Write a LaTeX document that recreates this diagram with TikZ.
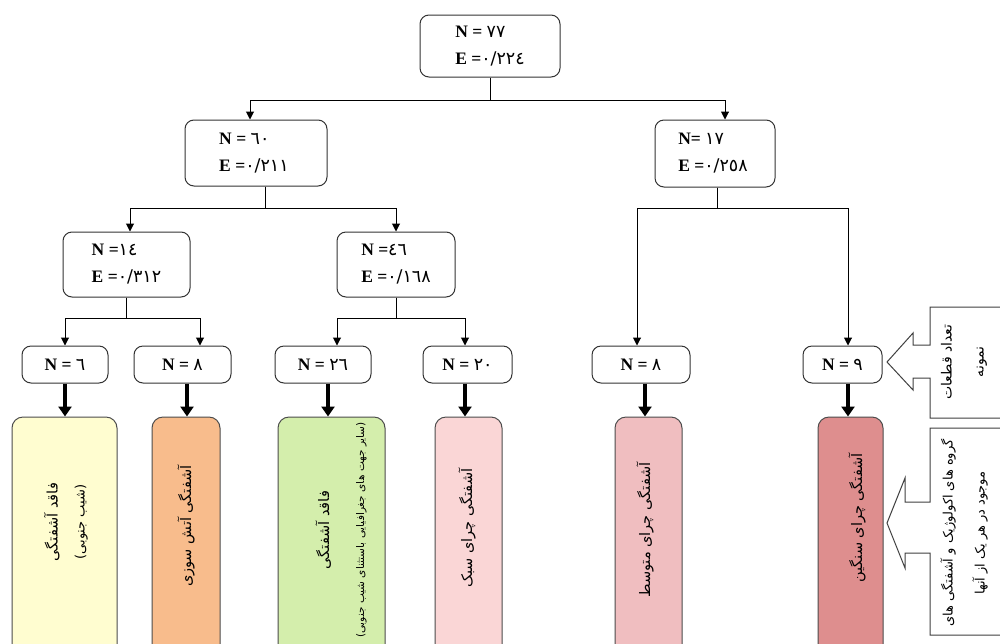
\documentclass[tikz,border=0pt]{standalone}
\usepackage{fontspec}
\setmainfont{Liberation Serif}
\newfontfamily\fa[Script=Arabic]{DejaVu Sans}
\newfontfamily\fadig{DejaVu Sans}
\TeXXeTstate=1
\usetikzlibrary{arrows.meta,calc}
\definecolor{cYellow}{RGB}{255,253,208}
\definecolor{cOrange}{RGB}{248,188,140}
\definecolor{cGreen}{RGB}{212,238,172}
\definecolor{cPinkA}{RGB}{250,214,214}
\definecolor{cPinkB}{RGB}{240,190,192}
\definecolor{cPinkC}{RGB}{222,142,142}
\newcommand{\dg}[1]{{\fadig\mdseries #1}}
\begin{document}
\begin{tikzpicture}[x=1pt,y=-1pt,
  box/.style={draw=black!80, line width=1pt, rounded corners=9pt, fill=white, inner sep=0pt},
  lvlf/.style={draw=black!70, line width=1pt, rounded corners=11pt, inner sep=0pt, minimum height=250pt},
  arr/.style={draw=black, line width=1pt, -{Triangle[length=8pt,width=8pt]}},
  tarr/.style={draw=black, line width=3.5pt, -{Triangle[length=10pt,width=13pt]}},
  lbl/.style={font=\fontsize{17.5}{27}\selectfont\bfseries, align=left},
  fatext/.style={rotate=90, align=center, font=\fa\fontsize{14.5}{#1}\selectfont},
  fatext/.default=27
]
\path[use as bounding box] (0,0) rectangle (1000,643);
\clip (0,0) rectangle (1000,643);
\fill[white] (0,0) rectangle (1000,643);

% level 1-3
\node[box, minimum width=140pt, minimum height=62pt] (root) at (490,46) {};
\node[lbl] (rootT) at (490,46) {N = \dg{٧٧}\\E =\dg{٠/٢٢٤}};
\node[box, minimum width=142pt, minimum height=66pt] (n60) at (256,153) {};
\node[lbl] (n60T) at (254,153) {N = \dg{٦٠}\\E =\dg{٠/٢١١}};
\node[box, minimum width=120pt, minimum height=67pt] (n17) at (715,153.5) {};
\node[lbl] (n17T) at (713,153.5) {N= \dg{١٧}\\E =\dg{٠/٢٥٨}};
\node[box, minimum width=127pt, minimum height=65pt] (n14) at (126.5,264.5) {};
\node[lbl] (n14T) at (126.5,264.5) {N =\dg{١٤}\\E =\dg{٠/٣١٢}};
\node[box, minimum width=118pt, minimum height=65pt] (n46) at (396,264.5) {};
\node[lbl] (n46T) at (396,264.5) {N =\dg{٤٦}\\E =\dg{٠/١٦٨}};

% level 4
\node[box, minimum width=86pt, minimum height=37pt, lbl] (a6) at (65,364.5) {N = \dg{٦}};
\node[box, minimum width=97pt, minimum height=37pt, lbl] (a8) at (182.5,364.5) {N = \dg{٨}};
\node[box, minimum width=96pt, minimum height=37pt, lbl] (a26) at (323,364.5) {N = \dg{٢٦}};
\node[box, minimum width=89pt, minimum height=37pt, lbl] (a20) at (467.5,364.5) {N = \dg{٢٠}};
\node[box, minimum width=98pt, minimum height=37pt, lbl] (b8) at (641,364.5) {N = \dg{٨}};
\node[box, minimum width=79pt, minimum height=37pt, lbl] (b9) at (842.5,364.5) {N = \dg{٩}};

% level 5
\node[lvlf, fill=cYellow, minimum width=105pt] (c1) at (64.5,542) {};
\node[lvlf, fill=cOrange, minimum width=68pt] (c2) at (186,542) {};
\node[lvlf, fill=cGreen, minimum width=107pt] (c3) at (331.5,542) {};
\node[lvlf, fill=cPinkA, minimum width=67pt] (c4) at (468.5,542) {};
\node[lvlf, fill=cPinkB, minimum width=67pt] (c5) at (648.5,542) {};
\node[lvlf, fill=cPinkC, minimum width=65pt] (c6) at (850.5,542) {};

\node[fatext=27] (c1T) at (66,522) {\beginR فاقد آشفتگی\endR\\{\fontsize{13}{27}\selectfont\beginR (شیب جنوبی)\endR}};
\node[fatext] (c2T) at (186,526) {\beginR آشفتگی آتش سوزی\endR};
\node[fatext=35] (c3T) at (341,530) {\beginR فاقد آشفتگی\endR\\{\fontsize{10.5}{35}\selectfont\beginR (سایر جهت های جغرافیایی باستثنای شیب جنوبی)\endR}};
\node[fatext] (c4T) at (467,528) {\beginR آشفتگی چرای سبک\endR};
\node[fatext] (c5T) at (645,530) {\beginR آشفتگی چرای متوسط\endR};
\node[fatext] (c6T) at (857,518) {\beginR آشفتگی چرای سنگین\endR};

% connectors
\draw[arr] (root.south) -- ++(0,23) -| ($(n60.north)+(-6,0)$);
\draw[arr] (root.south) -- ++(0,23) -| ($(n17.north)+(10,0)$);
\draw[arr] ($(n60.south)+(9,0)$) -- ++(0,22) -| ($(n14.north)+(3.5,0)$);
\draw[arr] ($(n60.south)+(9,0)$) -- ++(0,22) -| (n46.north);
\draw[arr] ($(n17.south)+(2,0)$) -- ++(0,21) -| ($(b8.north)+(-4,0)$);
\draw[arr] ($(n17.south)+(2,0)$) -- ++(0,21) -| ($(b9.north)+(5.5,0)$);
\draw[arr] (n14.south) -- ++(0,21) -| (a6.north);
\draw[arr] (n14.south) -- ++(0,21) -| ($(a8.north)+(17.5,0)$);
\draw[arr] (n46.south) -- ++(0,21) -| ($(a26.north)+(14,0)$);
\draw[arr] (n46.south) -- ++(0,21) -| ($(a20.north)+(-2.5,0)$);

\draw[tarr] (a6.south) -- (a6.south |- c1.north);
\draw[tarr] ($(a8.south)+(4.5,0)$) coordinate (t2) -- (t2 |- c2.north);
\draw[tarr] ($(a26.south)+(5,0)$) coordinate (t3) -- (t3 |- c3.north);
\draw[tarr] ($(a20.south)+(-2.5,0)$) coordinate (t4) -- (t4 |- c4.north);
\draw[tarr] ($(b8.south)+(4,0)$) coordinate (t5) -- (t5 |- c5.north);
\draw[tarr] ($(b9.south)+(5.5,0)$) coordinate (t6) -- (t6 |- c6.north);

% callouts
\draw[black!75, line width=1pt, fill=white]
  (1010,307) -- (930,307) -- (930,345) -- (913,345) -- (913,333) -- (887,362)
  -- (913,390) -- (913,378) -- (930,378) -- (930,418) -- (1010,418);
\node[fatext=32, font=\fa\fontsize{14}{32}\selectfont] (k1) at (964,362) {\beginR تعداد قطعات\endR\\\beginR نمونه\endR};
\draw[black!75, line width=1pt, fill=white]
  (1010,428) -- (930,428) -- (930,502) -- (905,502) -- (905,478) -- (887,523)
  -- (905,568) -- (905,553) -- (930,553) -- (930,635) -- (1010,635);
\node[fatext=32, font=\fa\fontsize{13}{32}\selectfont] (k2) at (964,533) {\beginR گروه های اکولوژیک و آشفتگی های\endR\\\beginR موجود در هر یک از آنها\endR};
\end{tikzpicture}
\end{document}
